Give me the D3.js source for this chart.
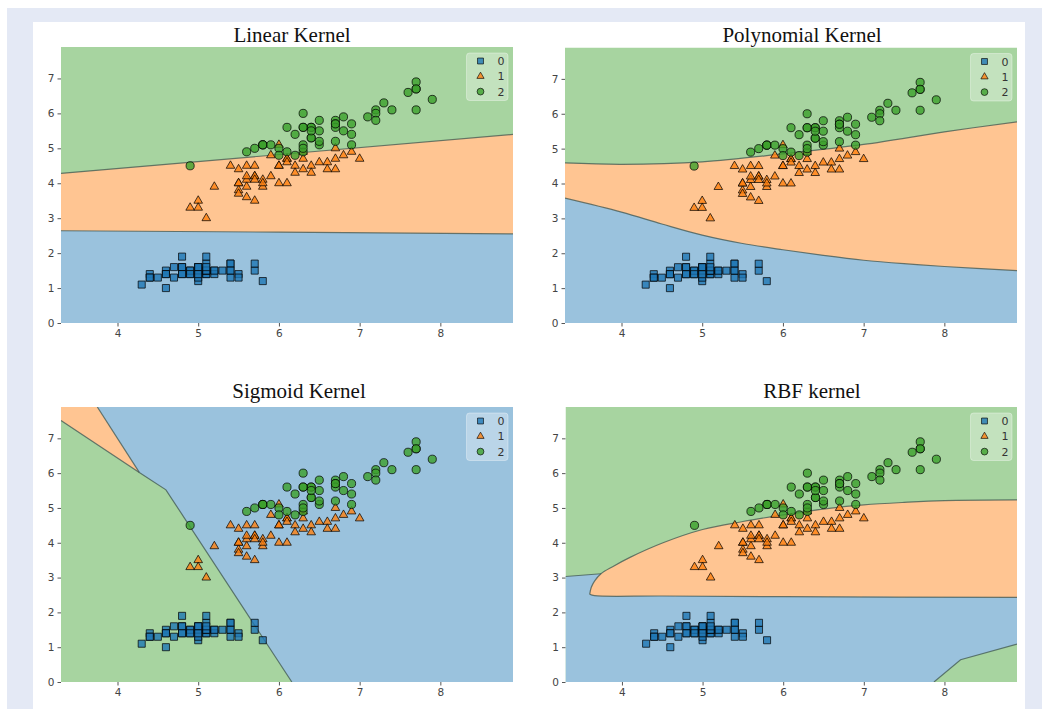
<!DOCTYPE html>
<html>
<head>
<meta charset="utf-8">
<script src="https://cdn.jsdelivr.net/npm/d3@7"></script>
<style>
    body { margin: 0; background: #ffffff; }
    svg { display: block; }
</style>
</head>
<body>
<div id="mainContainer"></div>
<script>
// iris: sepal length (x) vs petal length (y)
const class0X = [5.1,4.9,4.7,4.6,5.0,5.4,4.6,5.0,4.4,4.9,5.4,4.8,4.8,4.3,5.8,5.7,5.4,5.1,5.7,5.1,5.4,5.1,4.6,5.1,4.8,5.0,5.0,5.2,5.2,4.7,4.8,5.4,5.2,5.5,4.9,5.0,5.5,4.9,4.4,5.1,5.0,4.5,4.4,5.0,5.1,4.8,5.1,4.6,5.3,5.0];
const class0Y = [1.4,1.4,1.3,1.5,1.4,1.7,1.4,1.5,1.4,1.5,1.5,1.6,1.4,1.1,1.2,1.5,1.3,1.4,1.7,1.5,1.7,1.5,1.0,1.7,1.9,1.6,1.6,1.5,1.4,1.6,1.6,1.5,1.5,1.4,1.5,1.2,1.3,1.4,1.3,1.5,1.3,1.3,1.3,1.6,1.9,1.4,1.6,1.4,1.5,1.4];
const class1X = [7.0,6.4,6.9,5.5,6.5,5.7,6.3,4.9,6.6,5.2,5.0,5.9,6.0,6.1,5.6,6.7,5.6,5.8,6.2,5.6,5.9,6.1,6.3,6.1,6.4,6.6,6.8,6.7,6.0,5.7,5.5,5.5,5.8,6.0,5.4,6.0,6.7,6.3,5.6,5.5,5.5,6.1,5.8,5.0,5.6,5.7,5.7,6.2,5.1,5.7];
const class1Y = [4.7,4.5,4.9,4.0,4.6,4.5,4.7,3.3,4.6,3.9,3.5,4.2,4.0,4.7,3.6,4.4,4.5,4.1,4.5,3.9,4.8,4.0,4.9,4.7,4.3,4.4,4.8,5.0,4.5,3.5,3.8,3.7,3.9,5.1,4.5,4.5,4.7,4.4,4.1,4.0,4.4,4.6,4.0,3.3,4.2,4.2,4.2,4.3,3.0,4.1];
const class2X = [6.3,5.8,7.1,6.3,6.5,7.6,4.9,7.3,6.7,7.2,6.5,6.4,6.8,5.7,5.8,6.4,6.5,7.7,7.7,6.0,6.9,5.6,7.7,6.3,6.7,7.2,6.2,6.1,6.4,7.2,7.4,7.9,6.4,6.3,6.1,7.7,6.3,6.4,6.0,6.9,6.7,6.9,5.8,6.8,6.7,6.7,6.3,6.5,6.2,5.9];
const class2Y = [6.0,5.1,5.9,5.6,5.8,6.6,4.5,6.3,5.8,6.1,5.1,5.3,5.5,5.0,5.1,5.3,5.5,6.7,6.9,5.0,5.7,4.9,6.7,4.9,5.7,6.0,4.8,4.9,5.6,5.8,6.1,6.4,5.6,5.1,5.6,6.1,5.6,5.5,4.8,5.4,5.6,5.1,5.1,5.9,5.7,5.2,5.0,5.2,5.4,5.1];

const classLabels = ["0", "1", "2"];
const titles = ["Linear Kernel", "Polynomial Kernel", "Sigmoid Kernel", "RBF kernel"];
const xTicks = [4, 5, 6, 7, 8];
const yTicks = [0, 1, 2, 3, 4, 5, 6, 7];
const xDomain = [3.3, 8.9];
const yDomain = [0, 7.9];

// decision boundaries (data coordinates)
const linearUpper = [[3.3, 4.28], [8.9, 5.40]];
const linearLower = [[3.3, 2.64], [6.0, 2.60], [8.9, 2.55]];
const polyUpper = [[3.3, 4.59], [4.0, 4.55], [5.0, 4.62], [6.0, 4.85], [7.0, 5.12], [8.0, 5.48], [8.9, 5.77]];
const polyLower = [[3.3, 3.58], [4.0, 3.18], [4.5, 2.84], [5.0, 2.52], [5.5, 2.28], [6.0, 2.10], [6.5, 1.94], [7.0, 1.80], [7.5, 1.70], [8.0, 1.62], [8.9, 1.50]];
const sigmoidGreenEdge = [[3.3, 7.51], [4.27, 6.02], [4.6, 5.52], [6.16, 0]];
const sigmoidOrangeEdge = [[3.75, 7.9], [4.27, 6.02]];
const rbfGreenLeft = [[3.3, 3.03], [3.74, 3.11]];
const rbfOrangeTop = [[3.60, 2.52], [3.62, 2.72], [3.66, 2.90], [3.74, 3.11], [3.89, 3.32], [4.10, 3.58], [4.51, 4.00], [5.0, 4.38], [5.5, 4.61], [6.0, 4.80], [6.57, 4.99], [7.0, 5.09], [7.5, 5.16], [8.0, 5.21], [8.9, 5.23]];
const rbfOrangeBottom = [[3.60, 2.52], [3.66, 2.48], [4.5, 2.47], [6.0, 2.45], [8.9, 2.43]];
const rbfGreenCorner = [[7.87, 0], [8.2, 0.64], [8.9, 1.09]];

const markerColors = ["#1f77b4", "#ff7f0e", "#3ca02c"];
const regionColors = ["#9ac2dd", "#ffc592", "#a7d4a0"];
const markerShapes = [d3.symbolSquare, d3.symbolTriangle, d3.symbolCircle];
const markerSizes = [50, 32, 52];

const svgWidth = 1042;
const svgHeight = 709;

const points = [
    { cls: 0, xs: class0X, ys: class0Y },
    { cls: 1, xs: class1X, ys: class1Y },
    { cls: 2, xs: class2X, ys: class2Y }
];

// each region: list of boundary pieces, each piece {pts, smooth}
const panels = [
    {
        title: titles[0], titleX: 292, titleY: 42,
        box: [61, 47, 513, 323], background: 2,
        regions: [
            { cls: 1, pieces: [{ pts: linearUpper }, { pts: [[8.9, 0], [3.3, 0]] }] },
            { cls: 0, pieces: [{ pts: linearLower }, { pts: [[8.9, 0], [3.3, 0]] }] }
        ],
        edges: [{ pts: linearUpper }, { pts: linearLower }]
    },
    {
        title: titles[1], titleX: 802, titleY: 42,
        box: [565, 47.5, 1017, 323], background: 2,
        regions: [
            { cls: 1, pieces: [{ pts: polyUpper, smooth: true }, { pts: [[8.9, 0], [3.3, 0]] }] },
            { cls: 0, pieces: [{ pts: polyLower, smooth: true }, { pts: [[8.9, 0], [3.3, 0]] }] }
        ],
        edges: [{ pts: polyUpper, smooth: true }, { pts: polyLower, smooth: true }]
    },
    {
        title: titles[2], titleX: 299, titleY: 398,
        box: [61, 407, 513, 682], background: 0,
        regions: [
            { cls: 2, pieces: [{ pts: sigmoidGreenEdge }, { pts: [[3.3, 0]] }] },
            { cls: 1, pieces: [{ pts: [[3.3, 7.9]] }, { pts: sigmoidOrangeEdge }, { pts: [[3.3, 7.51]] }] }
        ],
        edges: [{ pts: sigmoidGreenEdge }, { pts: sigmoidOrangeEdge }]
    },
    {
        title: titles[3], titleX: 812, titleY: 398,
        box: [565.5, 407, 1017, 682], background: 2,
        regions: [
            { cls: 0, pieces: [{ pts: [[3.3, 0]] }, { pts: rbfGreenLeft }, { pts: [[8.9, 3.11], [8.9, 0]] }] },
            { cls: 1, pieces: [{ pts: rbfOrangeTop, smooth: true }, { pts: rbfOrangeBottom.slice().reverse(), smooth: true }] },
            { cls: 2, pieces: [{ pts: rbfGreenCorner }, { pts: [[8.9, 0]] }] }
        ],
        edges: [{ pts: rbfGreenLeft }, { pts: rbfOrangeTop, smooth: true }, { pts: rbfOrangeBottom, smooth: true }, { pts: rbfGreenCorner }]
    }
];

const svg = d3.select("#mainContainer")
    .append("svg")
    .attr("width", svgWidth)
    .attr("height", svgHeight);

// page frame
svg.append("rect").attr("x", 7).attr("y", 8).attr("width", svgWidth - 7).attr("height", svgHeight - 8).attr("fill", "#e4e9f5");
svg.append("rect").attr("x", 33).attr("y", 22).attr("width", 992).attr("height", svgHeight - 22).attr("fill", "#ffffff");

function renderPanel(p, i) {
    const [left, top, right, bottom] = p.box;
    const xScale = d3.scaleLinear().domain(xDomain).range([left, right]);
    const yScale = d3.scaleLinear().domain(yDomain).range([bottom, top]);
    const straight = d3.line().x(d => xScale(d[0])).y(d => yScale(d[1]));
    const curved = d3.line().x(d => xScale(d[0])).y(d => yScale(d[1])).curve(d3.curveCatmullRom.alpha(0.5));
    const piecePath = piece => (piece.smooth && piece.pts.length > 2 ? curved : straight)(piece.pts);

    const regionPath = region => region.pieces
        .map((piece, k) => k === 0 ? piecePath(piece) : piecePath(piece).replace(/^M/, "L"))
        .join("") + "Z";

    const g = svg.append("g").attr("class", "panel");

    g.append("clipPath").attr("id", `clip${i}`)
        .append("rect")
        .attr("x", left).attr("y", top)
        .attr("width", right - left).attr("height", bottom - top);

    const plot = g.append("g").attr("clip-path", `url(#clip${i})`);

    plot.append("rect")
        .attr("x", left).attr("y", top)
        .attr("width", right - left).attr("height", bottom - top)
        .attr("fill", regionColors[p.background]);

    plot.selectAll("path.region")
        .data(p.regions)
        .enter()
        .append("path")
        .attr("class", "region")
        .attr("d", regionPath)
        .attr("fill", d => regionColors[d.cls]);

    plot.selectAll("path.edge")
        .data(p.edges)
        .enter()
        .append("path")
        .attr("class", "edge")
        .attr("d", piecePath)
        .attr("fill", "none")
        .attr("stroke", "#3f5550")
        .attr("stroke-opacity", 0.75)
        .attr("stroke-width", 1.2);

    points.forEach(set => {
        plot.selectAll(`path.pt${set.cls}`)
            .data(set.xs.map((x, k) => [x, set.ys[k]]))
            .enter()
            .append("path")
            .attr("class", `pt${set.cls}`)
            .attr("transform", d => `translate(${xScale(d[0])},${yScale(d[1])})`)
            .attr("d", d3.symbol().type(markerShapes[set.cls]).size(markerSizes[set.cls]))
            .attr("fill", markerColors[set.cls])
            .attr("fill-opacity", 0.8)
            .attr("stroke", "#000")
            .attr("stroke-opacity", 0.8)
            .attr("stroke-width", 0.9);
    });

    // axes
    const xAxis = g.append("g")
        .attr("transform", `translate(0, ${bottom})`)
        .call(d3.axisBottom(xScale).tickValues(xTicks).tickSize(3.5).tickPadding(3).tickFormat(d3.format("d")));
    const yAxis = g.append("g")
        .attr("transform", `translate(${left}, 0)`)
        .call(d3.axisLeft(yScale).tickValues(yTicks).tickSize(3.5).tickPadding(3).tickFormat(d3.format("d")));

    [xAxis, yAxis].forEach(ax => {
        ax.select(".domain").remove();
        ax.selectAll("line").attr("stroke", "#555");
        ax.selectAll("text")
            .attr("fill", "#444")
            .attr("font-size", "10.5px")
            .attr("font-family", "DejaVu Sans, sans-serif");
    });

    g.append("text")
        .attr("x", p.titleX)
        .attr("y", p.titleY)
        .attr("text-anchor", "middle")
        .attr("font-family", "Liberation Serif, Times New Roman, serif")
        .attr("font-size", "21px")
        .attr("fill", "#111")
        .text(p.title);

    // legend
    const legend = g.append("g").attr("transform", `translate(${right - 46.5}, ${top + 6})`);
    legend.append("rect")
        .attr("width", 41.5).attr("height", 47.5)
        .attr("rx", 3)
        .attr("fill", "#ffffff")
        .attr("fill-opacity", 0.32)
        .attr("stroke", "#ffffff")
        .attr("stroke-opacity", 0.35);

    classLabels.forEach((label, k) => {
        const row = legend.append("g").attr("transform", `translate(0, ${8 + k * 15.3})`);
        row.append("path")
            .attr("transform", "translate(14, 0)")
            .attr("d", d3.symbol().type(markerShapes[k]).size(markerSizes[k] * 0.7))
            .attr("fill", markerColors[k])
            .attr("fill-opacity", 0.8)
            .attr("stroke", "#000")
            .attr("stroke-opacity", 0.8)
            .attr("stroke-width", 0.8);
        row.append("text")
            .attr("x", 34.5)
            .attr("y", 4)
            .attr("text-anchor", "middle")
            .attr("font-size", "11px")
            .attr("font-family", "DejaVu Sans, sans-serif")
            .attr("fill", "#333")
            .text(label);
    });
}

panels.forEach(renderPanel);
</script>
</body>
</html>
